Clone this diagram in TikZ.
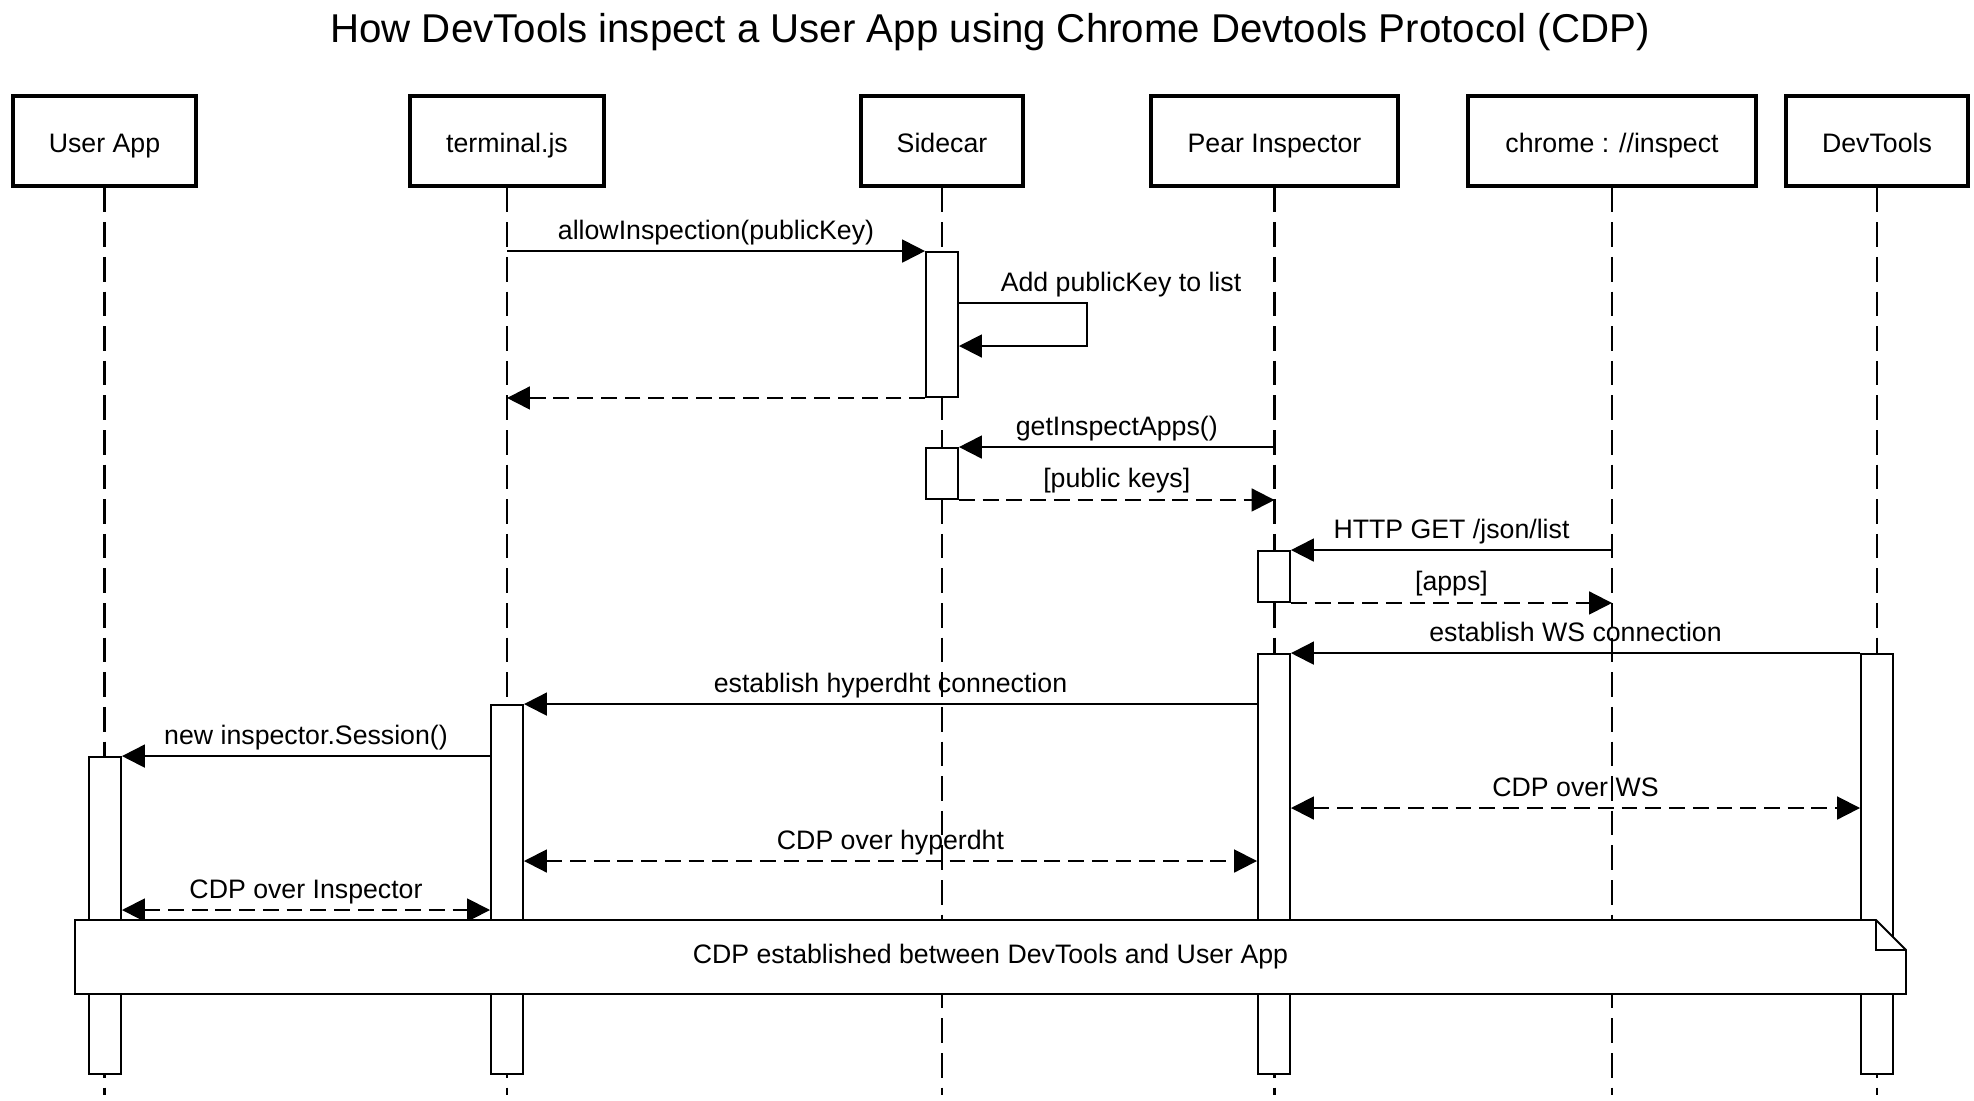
\documentclass[tikz,border=0pt]{standalone}
\usepackage{fontspec}
\setmainfont{Liberation Sans}
\usetikzlibrary{arrows.meta}

\begin{document}
\begin{tikzpicture}[x=0.02cm, y=-0.02cm,
    every node/.style={font=\fontsize{15.2}{18}\selectfont},
    actor/.style={draw, line width=2pt, minimum height=1.8cm, inner sep=0pt,
        text height=0.45cm, text depth=0.01cm},
    act/.style={draw, fill=white, line width=1.1pt, minimum width=0.64cm, inner sep=0pt},
    lifeline/.style={line width=1.3pt, dash pattern=on 14pt off 5.7pt},
    msg/.style={line width=1.1pt, -{Triangle[length=13pt, width=13pt]}},
    reply/.style={msg, dash pattern=on 9pt off 4.5pt},
    both/.style={reply, {Triangle[length=13pt, width=13pt]}-{Triangle[length=13pt, width=13pt]}},
    lbl/.style={anchor=base, yshift=0.24cm}]

    \useasboundingbox (0,0) rectangle (1974,1100);

    % Title
    \node[font=\fontsize{22.9}{27}\selectfont, anchor=base] (title) at (990,42)
        {How DevTools inspect a User App using Chrome Devtools Protocol (CDP)};

    % Participants
    \node[actor, minimum width=3.66cm] (ua) at (104.5,141) {User App};
    \node[actor, minimum width=3.88cm] (tj) at (507,141) {terminal.js};
    \node[actor, minimum width=3.24cm] (sc) at (942,141) {Sidecar};
    \node[actor, minimum width=4.94cm] (pi) at (1274.5,141) {Pear Inspector};
    \node[actor, minimum width=5.76cm] (ch) at (1612,141) {chrome : //inspect};
    \node[actor, minimum width=3.64cm] (dt) at (1877,141) {DevTools};

    % Lifelines
    \foreach \p in {ua,tj,sc,pi,ch,dt}
        \draw[lifeline] (\p.south) -- (\p.south |- 0,1095);

    % Activations
    \node[act, minimum height=2.9cm] (sc1) at (942,324.5) {};
    \node[act, minimum height=1.02cm] (sc2) at (942,473.5) {};
    \node[act, minimum height=1.02cm] (pi1) at (1274,576.5) {};
    \node[act, minimum height=8.4cm] (pi2) at (1274,864) {};
    \node[act, minimum height=8.4cm] (dt1) at (1877,864) {};
    \node[act, minimum height=7.38cm] (tj1) at (507,889.5) {};
    \node[act, minimum height=6.34cm] (ua1) at (105,915.5) {};

    % Messages
    \draw[msg] (tj.south |- sc1.north) -- node[lbl] (m1) {allowInspection(publicKey)} (sc1.north west);
    \draw[msg] (sc1.east |- 0,303) -- ++(128,0) -- ++(0,43) -- (sc1.east |- 0,346);
    \node[lbl] (m2) at (1121,303) {Add publicKey to list};
    \draw[reply] (sc1.south west) -- (tj.south |- sc1.south);
    \draw[msg] (pi.south |- sc2.north) -- node[lbl] (m3) {getInspectApps()} (sc2.north east);
    \draw[reply] (sc2.south east) -- node[lbl] (m4) {[public keys]} (pi.south |- sc2.south);
    \draw[msg] (ch.south |- pi1.north) -- node[lbl] (m5) {HTTP GET /json/list} (pi1.north east);
    \draw[reply] (pi1.south east) -- node[lbl] (m6) {[apps]} (ch.south |- pi1.south);
    \draw[msg] (dt1.north west) -- node[lbl] (m7) {establish WS connection} (pi2.north east);
    \draw[msg] (pi2.west |- tj1.north) -- node[lbl] (m8) {establish hyperdht connection} (tj1.north east);
    \draw[msg] (tj1.west |- ua1.north) -- node[lbl] (m9) {new inspector.Session()} (ua1.north east);
    \draw[both] (pi2.east |- 0,808) -- node[lbl] (m10) {CDP over WS} (dt1.west |- 0,808);
    \draw[both] (tj1.east |- 0,861) -- node[lbl] (m11) {CDP over hyperdht} (pi2.west |- 0,861);
    \draw[both] (ua1.east |- 0,910) -- node[lbl] (m12) {CDP over Inspector} (tj1.west |- 0,910);

    % Note
    \draw[fill=white, line width=1.1pt] (75,920) -- (1876,920) -- (1906,950) -- (1906,994) -- (75,994) -- cycle;
    \draw[line width=1.1pt] (1876,920) -- (1876,950) -- (1906,950);
    \node (note) at (990.5,957) {CDP established between DevTools and User App};
\end{tikzpicture}
\end{document}
